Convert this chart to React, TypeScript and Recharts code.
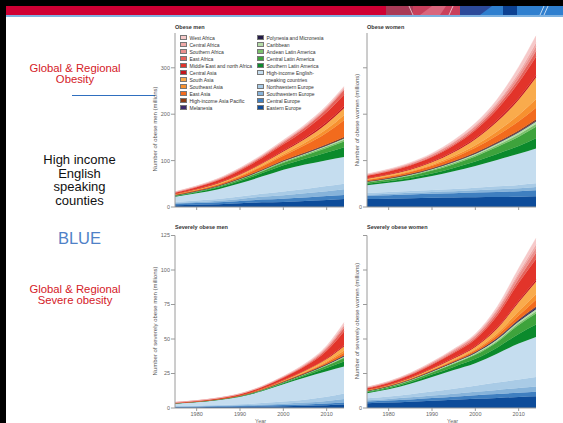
import React from 'react';
import { AreaChart, Area, XAxis, YAxis } from 'recharts';

// years sampled along each curve
const years = [1975, 1980, 1985, 1990, 1995, 2000, 2005, 2010, 2014];

// stacking order, bottom to top
const regionNames = [
  'Eastern Europe',
  'Central Europe',
  'Southwestern Europe',
  'Northwestern Europe',
  'High-income English-speaking countries',
  'Southern Latin America',
  'Central Latin America',
  'Andean Latin America',
  'Caribbean',
  'Polynesia and Micronesia',
  'Melanesia',
  'High-income Asia Pacific',
  'East Asia',
  'Southeast Asia',
  'South Asia',
  'Central Asia',
  'Middle East and north Africa',
  'East Africa',
  'Southern Africa',
  'Central Africa',
  'West Africa',
];

const regionColors = [
  '#0d4c9a', '#3f7fc0', '#86b3da', '#a9cbe6', '#c5ddef',
  '#0b8a2c', '#3ea33c', '#7cc16c', '#b5dca8',
  '#231a47', '#3d2b6b', '#8a3a12',
  '#f26b1d', '#f7912f', '#f9ab4c',
  '#c4161c', '#e2342a', '#e5625a', '#eb8f8c', '#f0aaa8', '#f6c9c9',
];

// legend columns as printed
const legendLeft = [
  'West Africa', 'Central Africa', 'Southern Africa', 'East Africa',
  'Middle East and north Africa', 'Central Asia', 'South Asia', 'Southeast Asia',
  'East Asia', 'High-income Asia Pacific', 'Melanesia',
];
const legendRight = [
  'Polynesia and Micronesia', 'Caribbean', 'Andean Latin America',
  'Central Latin America', 'Southern Latin America',
  'High-income English-speaking countries', 'Northwestern Europe',
  'Southwestern Europe', 'Central Europe', 'Eastern Europe',
];

// millions, one row per region in regionNames order
const obeseMen = [
  [4, 5, 6, 8, 10, 11, 13, 15, 17],
  [3, 3.5, 4, 5, 6, 7, 7.5, 8.5, 9],
  [2, 2.5, 3.5, 4.5, 6, 7.5, 9, 10.5, 12],
  [2, 3, 4, 5, 6.5, 8, 9.5, 11, 12],
  [11, 15.5, 21, 28.5, 37, 47, 52.5, 56, 58],
  [1.5, 2.5, 3.5, 5, 7, 9.5, 12.5, 16.5, 21],
  [1, 1.5, 2, 3, 4, 5.5, 7, 9.5, 12],
  [0.3, 0.4, 0.6, 0.9, 1.3, 1.8, 2.5, 3.2, 4],
  [0.4, 0.5, 0.7, 0.9, 1.2, 1.6, 2, 2.5, 3],
  [0.1, 0.1, 0.15, 0.2, 0.25, 0.3, 0.35, 0.45, 0.5],
  [0.05, 0.05, 0.08, 0.1, 0.15, 0.2, 0.25, 0.3, 0.4],
  [0.3, 0.4, 0.5, 0.7, 0.9, 1.1, 1.4, 1.7, 2],
  [1, 1.5, 2.5, 4, 6.5, 10, 16, 25, 36],
  [0.4, 0.6, 0.9, 1.4, 2.2, 3.3, 5, 8, 11],
  [0.8, 1.2, 1.8, 2.7, 4, 5.7, 8, 11.5, 15],
  [0.4, 0.6, 0.8, 1.1, 1.5, 2, 2.6, 3.3, 4],
  [2.5, 3.8, 5.5, 7.8, 10.5, 13.5, 17, 21, 25],
  [0.6, 0.9, 1.3, 1.9, 2.7, 3.7, 5.1, 7.2, 10],
  [0.8, 1, 1.3, 1.6, 1.9, 2.2, 2.5, 2.8, 3],
  [0.3, 0.4, 0.6, 0.8, 1, 1.3, 1.6, 1.9, 2],
  [0.5, 0.7, 1, 1.3, 1.7, 2.1, 2.5, 2.9, 3],
];

const obeseWomen = [
  [17, 18, 19, 20, 20.5, 21, 21.5, 22, 23],
  [7, 7.5, 8, 8.5, 9, 10, 11, 12, 13],
  [3, 3.3, 3.6, 4, 4.5, 5, 5.7, 6.4, 7],
  [3, 3.3, 3.7, 4.2, 4.8, 5.5, 6.3, 7.2, 8],
  [17, 20, 24, 30, 38, 47, 57, 67, 75],
  [3, 3.5, 4.3, 5.5, 7.3, 9.6, 12.8, 17, 22],
  [3, 3.7, 4.7, 6.2, 8.3, 11, 15, 20, 25],
  [0.8, 1, 1.3, 1.7, 2.2, 2.9, 3.8, 4.9, 6],
  [1, 1.2, 1.5, 1.9, 2.4, 3, 3.7, 4.4, 5],
  [0.2, 0.25, 0.3, 0.4, 0.5, 0.6, 0.7, 0.85, 1],
  [0.1, 0.15, 0.2, 0.3, 0.4, 0.5, 0.6, 0.8, 1],
  [0.5, 0.6, 0.8, 1, 1.3, 1.6, 2, 2.5, 3],
  [2.5, 3, 3.8, 5, 7, 10, 14, 20, 25],
  [1, 1.3, 1.8, 2.6, 3.8, 5.5, 8.5, 13, 18],
  [2, 2.6, 3.5, 5, 8, 13, 21, 33, 47],
  [1, 1.2, 1.5, 1.8, 2.2, 2.7, 3.3, 4.1, 5],
  [5, 6, 7.5, 9.5, 12.5, 16.5, 23, 33, 40],
  [1, 1.2, 1.5, 2, 2.8, 3.9, 6, 8.5, 12],
  [1.5, 1.8, 2.2, 2.8, 3.5, 4.5, 5.8, 7.8, 10],
  [0.6, 0.8, 1, 1.3, 1.8, 2.5, 3.5, 5.5, 8],
  [1, 1.3, 1.7, 2.3, 3.2, 4.5, 6.5, 12, 15],
];

const severeMen = [
  [0.5, 0.6, 0.75, 0.9, 1.1, 1.3, 1.6, 2, 2.5],
  [0.3, 0.35, 0.45, 0.55, 0.7, 0.85, 1, 1.25, 1.5],
  [0.25, 0.3, 0.4, 0.55, 0.75, 1, 1.35, 1.9, 2.5],
  [0.25, 0.35, 0.5, 0.7, 1, 1.5, 2.1, 3, 4],
  [2, 2.7, 3.7, 5.4, 8.5, 12.5, 16, 18.5, 19.5],
  [0.1, 0.15, 0.2, 0.3, 0.5, 0.8, 1.3, 2.3, 3.7],
  [0.1, 0.13, 0.18, 0.25, 0.4, 0.6, 1, 1.6, 2.5],
  [0.02, 0.03, 0.04, 0.06, 0.09, 0.14, 0.22, 0.38, 0.6],
  [0.05, 0.06, 0.08, 0.1, 0.14, 0.2, 0.3, 0.45, 0.6],
  [0.02, 0.03, 0.04, 0.05, 0.07, 0.1, 0.14, 0.2, 0.3],
  [0.01, 0.01, 0.01, 0.02, 0.02, 0.03, 0.05, 0.07, 0.1],
  [0.01, 0.01, 0.02, 0.03, 0.04, 0.06, 0.1, 0.18, 0.3],
  [0.03, 0.04, 0.06, 0.1, 0.17, 0.3, 0.55, 1.1, 2],
  [0.02, 0.03, 0.05, 0.08, 0.13, 0.22, 0.4, 0.8, 1.5],
  [0.05, 0.07, 0.1, 0.15, 0.25, 0.45, 0.85, 1.7, 3],
  [0.03, 0.04, 0.05, 0.07, 0.1, 0.15, 0.25, 0.45, 0.8],
  [0.2, 0.3, 0.45, 0.7, 1.1, 1.8, 3, 5.6, 10],
  [0.03, 0.04, 0.06, 0.1, 0.17, 0.3, 0.6, 1.3, 2.5],
  [0.06, 0.08, 0.11, 0.15, 0.22, 0.35, 0.55, 0.95, 1.5],
  [0.02, 0.03, 0.04, 0.06, 0.1, 0.17, 0.3, 0.55, 1],
  [0.04, 0.05, 0.07, 0.1, 0.16, 0.27, 0.5, 0.9, 1.6],
];

const severeWomen = [
  [3.5, 4, 4.6, 5.3, 6, 6.7, 7.3, 8, 8.5],
  [1.2, 1.4, 1.6, 1.9, 2.2, 2.5, 2.8, 3.1, 3.3],
  [1, 1.2, 1.5, 1.8, 2.2, 2.6, 3, 3.4, 3.7],
  [1.4, 1.8, 2.3, 2.9, 3.6, 4.4, 5.3, 6.2, 7],
  [3.6, 5.1, 7.5, 10.6, 13.5, 16.3, 21, 26, 29],
  [0.7, 0.9, 1.2, 1.7, 2.3, 3.1, 4.3, 7, 9],
  [0.6, 0.8, 1.1, 1.5, 2.1, 2.9, 4, 6.5, 8],
  [0.15, 0.2, 0.27, 0.37, 0.5, 0.68, 0.9, 1.2, 1.5],
  [0.2, 0.25, 0.32, 0.42, 0.55, 0.72, 0.95, 1.2, 1.5],
  [0.1, 0.13, 0.17, 0.23, 0.3, 0.4, 0.55, 0.75, 1],
  [0.05, 0.06, 0.08, 0.1, 0.13, 0.18, 0.25, 0.35, 0.5],
  [0.05, 0.06, 0.08, 0.1, 0.13, 0.18, 0.25, 0.35, 0.5],
  [0.2, 0.27, 0.37, 0.5, 0.75, 1.1, 2, 3, 5],
  [0.15, 0.2, 0.28, 0.4, 0.6, 0.9, 1.4, 3, 4],
  [0.25, 0.33, 0.45, 0.65, 1, 1.6, 3.4, 6.5, 9],
  [0.15, 0.2, 0.27, 0.36, 0.48, 0.63, 0.85, 1.15, 1.5],
  [1, 1.3, 1.8, 2.6, 3.6, 5, 8.5, 13, 15],
  [0.2, 0.27, 0.36, 0.5, 0.7, 1, 2, 2.8, 4.5],
  [0.4, 0.5, 0.65, 0.85, 1.1, 1.45, 1.95, 3, 3.5],
  [0.1, 0.14, 0.2, 0.28, 0.4, 0.58, 0.9, 1.6, 2.5],
  [0.15, 0.2, 0.28, 0.4, 0.58, 0.85, 1.6, 3.2, 4.5],
];

const xTicks = [1980, 1990, 2000, 2010];
const obeseTicks = [0, 100, 200, 300];
const severeTicks = [0, 25, 50, 75, 100, 125];

const FONT = "'Liberation Sans', Arial, sans-serif";

function buildRows(values: number[][]) {
  return years.map((year, i) => {
    const row: Record<string, number> = { year };
    regionNames.forEach((_, j) => {
      row['r' + j] = values[j][i];
    });
    return row;
  });
}

function colorOf(name: string) {
  return regionColors[regionNames.indexOf(name)];
}

interface PanelProps {
  values: number[][];
  left: number;
  top: number;
  width: number;
  height: number;
  marginTop: number;
  marginRight: number;
  yWidth: number;
  xHeight: number;
  yMax: number;
  yTicks: number[];
  yLabels: boolean;
  xLabels: boolean;
}

function Panel(p: PanelProps) {
  return (
    <div style={{ position: 'absolute', left: p.left, top: p.top }}>
      <AreaChart
        width={p.width}
        height={p.height}
        data={buildRows(p.values)}
        margin={{ top: p.marginTop, right: p.marginRight, left: 0, bottom: 0 }}
      >
        <XAxis
          type="number"
          dataKey="year"
          domain={[1975, 2014]}
          ticks={xTicks}
          interval={0}
          height={p.xHeight}
          stroke="#9a9a9a"
          tickSize={3}
          tickMargin={1}
          tick={{ fontSize: 5.5, fill: '#666', fontFamily: FONT }}
          tickFormatter={(v) => (p.xLabels ? String(v) : '')}
        />
        <YAxis
          type="number"
          domain={[0, p.yMax]}
          ticks={p.yTicks}
          interval={0}
          width={p.yWidth}
          stroke="#9a9a9a"
          tickSize={4}
          tickMargin={1}
          tick={{ fontSize: 5.5, fill: '#666', fontFamily: FONT }}
          tickFormatter={(v) => (p.yLabels || v === 0 ? String(v) : '')}
        />
        {regionNames.map((name, j) => (
          <Area
            key={name}
            name={name}
            dataKey={'r' + j}
            stackId="1"
            type="monotone"
            fill={regionColors[j]}
            fillOpacity={1}
            stroke={regionColors[j]}
            strokeWidth={0.4}
            dot={false}
            activeDot={false}
            isAnimationActive={false}
          />
        ))}
      </AreaChart>
    </div>
  );
}

function LegendBlock() {
  const item = (name: string, label?: string) => (
    <div key={name + (label || '')} style={{ display: 'flex', alignItems: 'center', height: 7 }}>
      <span
        style={{
          display: 'inline-block',
          width: 5,
          height: 3.5,
          marginRight: 2.5,
          background: colorOf(name),
          border: '0.5px solid #777',
        }}
      />
      <span>{label === undefined ? name : label}</span>
    </div>
  );
  const rightItems: React.ReactNode[] = [];
  legendRight.forEach((name) => {
    if (name === 'High-income English-speaking countries') {
      rightItems.push(item(name, 'High-income English-'));
      rightItems.push(
        <div key="wrap" style={{ height: 7, paddingLeft: 8.5, display: 'flex', alignItems: 'center' }}>
          speaking countries
        </div>
      );
    } else {
      rightItems.push(item(name));
    }
  });
  return (
    <div
      style={{
        position: 'absolute',
        left: 180,
        top: 34,
        display: 'flex',
        fontSize: 5,
        color: '#333',
        fontFamily: FONT,
        whiteSpace: 'nowrap',
      }}
    >
      <div style={{ width: 77 }}>{legendLeft.map((n) => item(n))}</div>
      <div>{rightItems}</div>
    </div>
  );
}

function RotatedLabel({ text, x, y }: { text: string; x: number; y: number }) {
  return (
    <div
      style={{
        position: 'absolute',
        left: x,
        top: y,
        transform: 'translate(-50%, -50%) rotate(-90deg)',
        fontSize: 6,
        color: '#555',
        fontFamily: FONT,
        whiteSpace: 'nowrap',
      }}
    >
      {text}
    </div>
  );
}

function Note({ x, y, size, color, lines, lh }: { x: number; y: number; size: number; color: string; lines: string[]; lh: number }) {
  return (
    <div
      style={{
        position: 'absolute',
        left: x - 70,
        top: y,
        width: 140,
        textAlign: 'center',
        fontSize: size,
        lineHeight: lh + 'px',
        color,
        fontFamily: FONT,
      }}
    >
      {lines.map((l) => (
        <div key={l}>{l}</div>
      ))}
    </div>
  );
}

function Banner() {
  return (
    <svg width={563} height={18} style={{ position: 'absolute', left: 0, top: 0 }}>
      <rect x={0} y={0} width={563} height={6} fill="#000" />
      <rect x={0} y={6} width={563} height={9} fill="#cf0034" />
      <rect x={386} y={6} width={27} height={9} fill="#a93a57" />
      <rect x={413} y={6} width={47} height={9} fill="#c9405c" />
      <polygon points="420,15 432,6 446,6 440,15" fill="#d9667d" />
      <line x1={409} y1={6} x2={413} y2={15} stroke="#f3d6dc" strokeWidth={0.8} />
      <line x1={453} y1={6} x2={449} y2={15} stroke="#f3d6dc" strokeWidth={0.8} />
      <rect x={460} y={6} width={103} height={9} fill="#2f7fcf" />
      <polygon points="460,6 492,6 480,15 460,15" fill="#2c4a9a" />
      <rect x={503} y={6} width={14} height={9} fill="#0c4192" />
      <line x1={544} y1={6} x2={540} y2={15} stroke="#e8f0fa" strokeWidth={0.8} />
      <line x1={548} y1={6} x2={544} y2={15} stroke="#e8f0fa" strokeWidth={0.8} />
      <rect x={0} y={15} width={563} height={2} fill="#7fb2e0" />
    </svg>
  );
}

const titleStyle: React.CSSProperties = {
  position: 'absolute',
  fontSize: 5.5,
  fontWeight: 'bold',
  color: '#333',
  fontFamily: FONT,
  whiteSpace: 'nowrap',
};

export default function App() {
  return (
    <div
      style={{
        position: 'fixed',
        left: 0,
        top: 0,
        width: 563,
        height: 423,
        background: '#fff',
        overflow: 'hidden',
      }}
    >
      <Banner />
      <div style={{ position: 'absolute', left: 0, top: 0, width: 6, height: 423, background: '#000' }} />

      <Note x={75} y={62.5} size={11.3} color="#d42027" lh={11.5} lines={['Global & Regional', 'Obesity']} />
      <div style={{ position: 'absolute', left: 72, top: 95, width: 83, height: 1.2, background: '#2f6fbf' }} />
      <Note x={79.5} y={153} size={13} color="#111" lh={13.7} lines={['High income', 'English', 'speaking', 'counties']} />
      <Note x={79.5} y={228.5} size={16.5} color="#4f81c7" lh={19} lines={['BLUE']} />
      <Note x={75} y={283.5} size={11.3} color="#d42027" lh={11.5} lines={['Global & Regional', 'Severe obesity']} />

      <Panel values={obeseMen} left={140} top={20} width={210} height={200} marginTop={13} marginRight={6}
        yWidth={35} xHeight={13} yMax={375} yTicks={obeseTicks} yLabels xLabels={false} />
      <Panel values={obeseWomen} left={340} top={20} width={200} height={200} marginTop={13} marginRight={4}
        yWidth={27} xHeight={13} yMax={375} yTicks={obeseTicks} yLabels={false} xLabels={false} />
      <Panel values={severeMen} left={140} top={225} width={210} height={198} marginTop={10.5} marginRight={6}
        yWidth={35} xHeight={15} yMax={125} yTicks={severeTicks} yLabels xLabels />
      <Panel values={severeWomen} left={340} top={225} width={200} height={198} marginTop={10.5} marginRight={4}
        yWidth={27} xHeight={15} yMax={125} yTicks={severeTicks} yLabels={false} xLabels />

      <div style={{ ...titleStyle, left: 175, top: 23.5 }}>Obese men</div>
      <div style={{ ...titleStyle, left: 367, top: 24 }}>Obese women</div>
      <div style={{ ...titleStyle, left: 175, top: 224 }}>Severely obese men</div>
      <div style={{ ...titleStyle, left: 367, top: 224 }}>Severely obese women</div>

      <LegendBlock />

      <RotatedLabel text="Number of obese men (millions)" x={155} y={129} />
      <RotatedLabel text="Number of obese women (millions)" x={356.5} y={120} />
      <RotatedLabel text="Number of severely obese men (millions)" x={155} y={321} />
      <RotatedLabel text="Number of severely obese women (millions)" x={356.5} y={321} />

      <div style={{ ...titleStyle, fontWeight: 'normal', color: '#666', left: 255, top: 418 }}>Year</div>
      <div style={{ ...titleStyle, fontWeight: 'normal', color: '#666', left: 447, top: 418 }}>Year</div>
    </div>
  );
}
